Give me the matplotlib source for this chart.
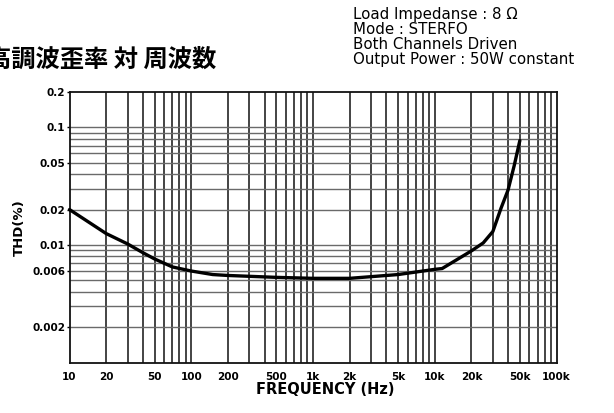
import numpy as np
import matplotlib
matplotlib.use("Agg")
import matplotlib.pyplot as plt
from matplotlib.ticker import FixedLocator, NullFormatter

# ---- data ----
freq_hz = [10, 20, 30, 40, 50, 70, 100, 150, 200, 500, 1000, 2000, 5000,
           10000, 11500, 20000, 25000, 30000, 35000, 40000, 45000, 50000]
thd_pct = [0.020, 0.0125, 0.0102, 0.0086, 0.0076, 0.0065, 0.0060, 0.0056,
           0.0055, 0.0053, 0.0052, 0.0052, 0.0056, 0.0062, 0.0063, 0.0089,
           0.0104, 0.0130, 0.0205, 0.0293, 0.0476, 0.0773]

x_ticks = [10, 20, 50, 100, 200, 500, 1000, 2000, 5000, 10000, 20000, 50000, 100000]
x_tick_labels = ["10", "20", "50", "100", "200", "500", "1k", "2k", "5k",
                 "10k", "20k", "50k", "100k"]
y_ticks = [0.002, 0.006, 0.01, 0.02, 0.05, 0.1, 0.2]
y_tick_labels = ["0.002", "0.006", "0.01", "0.02", "0.05", "0.1", "0.2"]

title_text = "高調波歪率 対 周波数"
info_lines = ["Load Impedanse : 8 Ω",
              "Mode : STERFO",
              "Both Channels Driven",
              "Output Power : 50W constant"]
x_label = "FREQUENCY (Hz)"
y_label = "THD(%)"

# ---- figure ----
W, H = 614, 413
fig = plt.figure(figsize=(W / 100, H / 100), dpi=100)
fig.patch.set_facecolor("white")
ax = fig.add_axes([69.5 / W, 1 - 362.5 / H, (556.5 - 69.5) / W, (362.5 - 92) / H])

ax.set_xscale("log")
ax.set_yscale("log")
ax.set_xlim(10, 100000)
ax.set_ylim(0.001, 0.2)

ax.xaxis.remove_overlapping_locs = False
ax.yaxis.remove_overlapping_locs = False

# grid lines (minor positions)
xgrid = np.array([m * 10.0 ** e for e in range(1, 5) for m in range(1, 10)])[1:]
ygrid = np.concatenate([np.arange(2, 10) * 1e-3, np.arange(1, 10) * 1e-2, [0.1]])
ax.xaxis.set_minor_locator(FixedLocator(xgrid))
ax.yaxis.set_minor_locator(FixedLocator(ygrid))
ax.xaxis.set_minor_formatter(NullFormatter())
ax.yaxis.set_minor_formatter(NullFormatter())
ax.grid(False)
ax.grid(True, which="minor", axis="x", color="#111111", lw=1.1)
ax.grid(True, which="minor", axis="y", color="#6a6a6a", lw=1.0)
ax.set_axisbelow(True)

ax.set_xticks(x_ticks)
ax.set_xticklabels(x_tick_labels)
ax.set_yticks(y_ticks)
ax.set_yticklabels(y_tick_labels)
ax.tick_params(which="minor", length=0)
ax.tick_params(axis="x", which="major", length=0, pad=7)
ax.tick_params(axis="y", which="major", length=2, width=1, pad=1)
for lab in ax.get_xticklabels() + ax.get_yticklabels():
    lab.set_fontweight("bold")
    lab.set_fontsize(7.5)

for s in ax.spines.values():
    s.set_color("#111111")
    s.set_linewidth(1.3)

ax.plot(freq_hz, thd_pct, color="black", lw=2.4, solid_joinstyle="round",
        solid_capstyle="round", zorder=5, clip_on=False)

# labels
fig.text(325 / W, 1 - 389 / H, x_label, ha="center", va="center",
         fontsize=10.5, fontweight="bold")
fig.text(19 / W, 1 - 228 / H, y_label, ha="center", va="center", rotation=90,
         fontsize=9.5, fontweight="bold")

# title (cut at left edge as in reference)
fig.text(216 / W, 1 - 60 / H, title_text, ha="right", va="center",
         fontsize=17.5, fontweight="bold",
         family=["Noto Sans CJK JP", "DejaVu Sans"])

# info block
for i, line in enumerate(info_lines):
    fig.text(353 / W, 1 - (15 + 14.8 * i) / H, line, ha="left", va="center",
             fontsize=10.8, family=["DejaVu Sans"])

fig.savefig("out.png", dpi=100, facecolor="white")
